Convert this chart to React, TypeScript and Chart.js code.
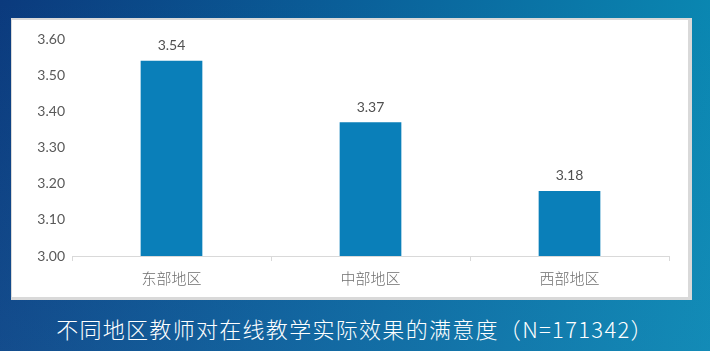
import React, { useEffect, useRef } from "react";
import { Chart, registerables } from "chart.js";

Chart.register(...registerables);

const categories = ["东部地区", "中部地区", "西部地区"];
const values = [3.54, 3.37, 3.18];
const yMin = 3.0;
const yMax = 3.6;
const yStep = 0.1;
const title = "不同地区教师对在线教学实际效果的满意度（N=171342）";

const valueLabelPlugin = {
  id: "valueLabels",
  afterDatasetsDraw(chart: any) {
    const ctx = chart.ctx;
    const meta = chart.getDatasetMeta(0);
    ctx.save();
    ctx.font = "14px Lato, 'Open Sans', sans-serif";
    ctx.fillStyle = "#505050";
    ctx.textAlign = "center";
    ctx.textBaseline = "bottom";
    meta.data.forEach((bar: any, i: number) => {
      ctx.fillText(values[i].toFixed(2), bar.x, bar.y - 8);
    });
    ctx.restore();
  },
};

export default function App() {
  const ref = useRef<HTMLCanvasElement | null>(null);

  useEffect(() => {
    if (!ref.current) return;
    const chart = new Chart(ref.current, {
      type: "bar",
      data: {
        labels: categories,
        datasets: [
          {
            data: values,
            backgroundColor: "#0a7fb9",
            borderWidth: 0,
            categoryPercentage: 0.31,
            barPercentage: 1,
          },
        ],
      },
      options: {
        animation: false,
        responsive: false,
        maintainAspectRatio: false,
        layout: { padding: { top: 20, right: 19, bottom: 0, left: 0 } },
        plugins: {
          legend: { display: false },
          tooltip: { enabled: false },
          title: { display: false },
        },
        scales: {
          x: {
            offset: true,
            grid: {
              offset: true,
              drawOnChartArea: false,
              drawTicks: true,
              tickLength: 5,
              color: "#d9d9d9",
            },
            border: { display: true, color: "#d9d9d9", width: 1 },
            ticks: {
              color: "#6f6f6f",
              padding: 8,
              font: { family: "'Noto Sans CJK SC', sans-serif", size: 15, weight: 300 },
            },
            afterFit(scale: any) {
              scale.height = 41;
            },
          },
          y: {
            min: yMin,
            max: yMax,
            grid: { display: false, drawTicks: false },
            border: { display: false },
            ticks: {
              stepSize: yStep,
              padding: 7,
              color: "#595959",
              font: { family: "Lato, 'Open Sans', sans-serif", size: 14 },
              callback: (v: any) => Number(v).toFixed(2),
            },
            afterFit(scale: any) {
              scale.width = 60;
            },
          },
        },
      },
      plugins: [valueLabelPlugin],
    });
    return () => chart.destroy();
  }, []);

  return (
    <div
      style={{
        position: "fixed",
        left: 0,
        top: 0,
        width: 710,
        height: 351,
        background:
          "linear-gradient(180deg, rgba(255,255,255,0) 0%, rgba(60,130,190,0.18) 100%), linear-gradient(100deg, #0b3a7d 0%, #0a5f99 45%, #0a8db5 100%)",
        overflow: "hidden",
      }}
    >
      <div
        style={{
          position: "absolute",
          left: 11,
          top: 18,
          width: 676,
          height: 277,
          background: "#ffffff",
          borderTop: "2px solid #d9d9d9",
          borderLeft: "1px solid #d9d9d9",
          borderRight: "4px solid #d9d9d9",
          borderBottom: "3px solid #d9d9d9",
          boxSizing: "content-box",
        }}
      >
        <canvas
          ref={ref}
          width={676}
          height={278}
          style={{ position: "absolute", left: 0, top: -1, width: 676, height: 278 }}
        />
      </div>
      <div
        style={{
          position: "absolute",
          left: 0,
          top: 314,
          width: 710,
          textAlign: "center",
          color: "#ffffff",
          fontFamily: "'Noto Sans CJK SC', sans-serif",
          fontWeight: 300,
          fontSize: 22,
          letterSpacing: 1.3,
          lineHeight: "28px",
          whiteSpace: "nowrap",
        }}
      >
        {title}
      </div>
    </div>
  );
}
